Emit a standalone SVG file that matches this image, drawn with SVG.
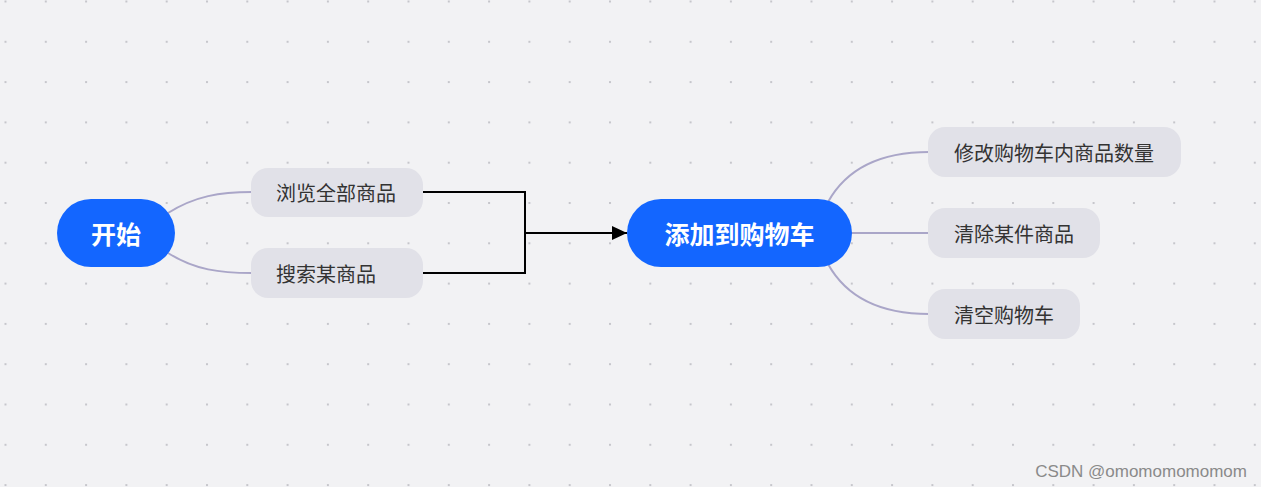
<svg xmlns="http://www.w3.org/2000/svg" width="1261" height="487" viewBox="0 0 1261 487">
<style>
.bg{fill:#f2f2f4}
.main rect{fill:#1366ff}
.main text{fill:#ffffff;font-family:"Noto Sans CJK SC","Noto Sans",sans-serif;font-size:25px;font-weight:bold;text-anchor:middle;dominant-baseline:central}
.sub rect{fill:#e1e1e8}
.sub text{fill:#333333;font-family:"Noto Sans CJK SC","Noto Sans",sans-serif;font-size:20px;dominant-baseline:central}
.curve{fill:none;stroke:#aaa6c8;stroke-width:2}
.elbow{fill:none;stroke:#000000;stroke-width:2}
.wm{fill:#8a8a8a;font-family:"Liberation Sans",Arial,sans-serif;font-size:17px;text-anchor:end}
</style>
<defs>
<pattern id="dots" x="4.5" y="0.5" width="40.3" height="40.3" patternUnits="userSpaceOnUse">
<rect x="0" y="0" width="2" height="2" fill="#c6c6cb"/>
</pattern>
<marker id="arr" markerWidth="16" markerHeight="16" refX="15" refY="7" orient="auto" markerUnits="userSpaceOnUse">
<path d="M0,0 L15,7 L0,14 Z" fill="#000000"/>
</marker>
</defs>
<rect class="bg" x="0" y="0" width="1261" height="487"/>
<rect x="0" y="0" width="1261" height="487" fill="url(#dots)"/>
<g id="connectors">
<path class="curve" d="M168,213 C195,196 220,192 252,192"/>
<path class="curve" d="M168,253 C195,270 220,273 252,273"/>
<path class="elbow" d="M423,192 H525 V273 H423"/>
<path class="elbow" d="M525,233 H627" marker-end="url(#arr)"/>
<path class="curve" d="M828,202 C848,166 885,152 929,152"/>
<path class="curve" d="M850,233 H929"/>
<path class="curve" d="M828,264 C848,300 885,314 929,314"/>
</g>
<g id="node-start" class="main">
<rect x="57" y="199" width="118" height="68" rx="34"/>
<text x="116" y="233">开始</text>
</g>
<g id="node-browse" class="sub">
<rect x="251" y="168" width="172" height="49" rx="17"/>
<text x="276" y="192.5">浏览全部商品</text>
</g>
<g id="node-search" class="sub">
<rect x="251" y="248" width="172" height="50" rx="17"/>
<text x="276" y="273">搜索某商品</text>
</g>
<g id="node-cart" class="main">
<rect x="627" y="199" width="225" height="68" rx="34"/>
<text x="739.5" y="233">添加到购物车</text>
</g>
<g id="node-modify" class="sub">
<rect x="928" y="127" width="253" height="50" rx="17"/>
<text x="954" y="152">修改购物车内商品数量</text>
</g>
<g id="node-remove" class="sub">
<rect x="928" y="208" width="172" height="50" rx="17"/>
<text x="954" y="233">清除某件商品</text>
</g>
<g id="node-clear" class="sub">
<rect x="928" y="289" width="152" height="50" rx="17"/>
<text x="954" y="314">清空购物车</text>
</g>
<text class="wm" x="1247" y="477">CSDN @omomomomomom</text>
</svg>
